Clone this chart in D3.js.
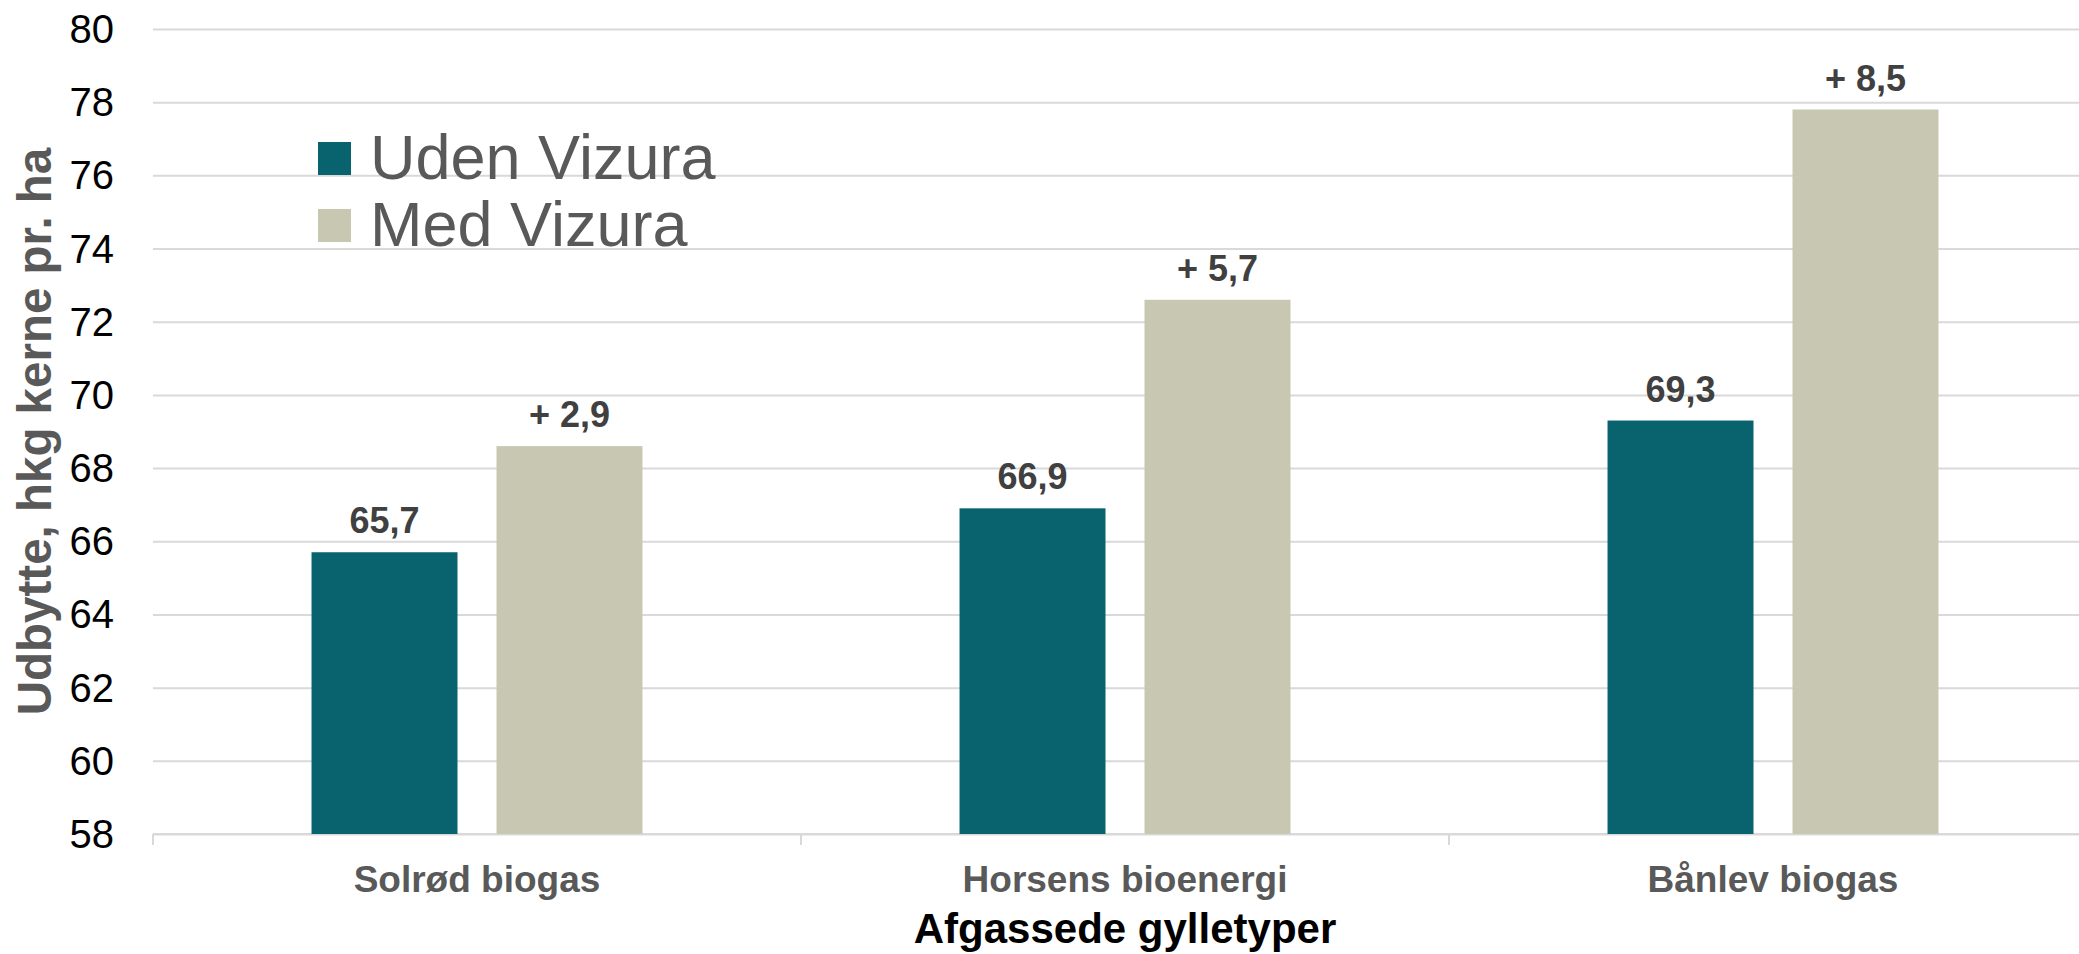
<!DOCTYPE html>
<html>
<head>
<meta charset="utf-8">
<script src="https://cdn.jsdelivr.net/npm/d3@7"></script>
<style>
    body { margin: 0; overflow: hidden; background: #fff; }
    svg { display: block; font-family: "Liberation Sans", Arial, sans-serif; }
    .grid line { stroke: #d9d9d9; stroke-width: 2; }
    .grid .domain { display: none; }
</style>
</head>
<body>
<svg width="2079" height="954"></svg>
<script>
var categories = ["Solrød biogas", "Horsens bioenergi", "Bånlev biogas"];
var series = ["Uden Vizura", "Med Vizura"];
var udenValues = [65.7, 66.9, 69.3];
var medValues = [68.6, 72.6, 77.8];
var yTicks = [58, 60, 62, 64, 66, 68, 70, 72, 74, 76, 78, 80];
var colors = ["#09636f", "#c8c7b2"];

var svg, margin, width, height, xScale, xSub, yScale, g;

function fmt(v) {
    return v.toFixed(1).replace(".", ",");
}

function initLayout() {
    svg = d3.select("svg");
    // plot runs a bit past the right edge of the picture, like the original
    margin = {top: 29, left: 153};
    width = 1944;
    height = 805;

    xScale = d3.scaleBand().domain(categories).range([0, width]);
    xSub = d3.scaleBand().domain(series).range([0, xScale.bandwidth()])
        .paddingInner(0.2108).paddingOuter(0.857);
    yScale = d3.scaleLinear().domain([58, 80]).range([height, 0]);

    g = svg.append("g")
        .attr("transform", "translate(" + margin.left + "," + margin.top + ")");
}

function drawAxes() {
    // gridlines
    g.append("g")
        .attr("class", "grid")
        .call(d3.axisRight(yScale).tickValues(yTicks).tickSize(width).tickFormat(""));

    // y tick labels
    g.append("g").selectAll("text")
        .data(yTicks)
        .enter().append("text")
        .attr("x", -39)
        .attr("y", function (d) { return yScale(d); })
        .attr("dy", "0.35em")
        .attr("text-anchor", "end")
        .attr("font-size", 40)
        .attr("fill", "#000")
        .text(function (d) { return d; });

    // x axis line + ticks between categories
    var xAxisG = g.append("g").attr("transform", "translate(0," + height + ")");
    xAxisG.append("line")
        .attr("x1", 0).attr("x2", width)
        .attr("stroke", "#d9d9d9").attr("stroke-width", 2);
    xAxisG.selectAll(".tick")
        .data(categories)
        .enter().append("line")
        .attr("class", "tick")
        .attr("x1", function (d) { return xScale(d); })
        .attr("x2", function (d) { return xScale(d); })
        .attr("y1", 0).attr("y2", 11)
        .attr("stroke", "#d9d9d9").attr("stroke-width", 2);

    xAxisG.selectAll(".cat")
        .data(categories)
        .enter().append("text")
        .attr("class", "cat")
        .attr("x", function (d) { return xScale(d) + xScale.bandwidth() / 2; })
        .attr("y", 58)
        .attr("text-anchor", "middle")
        .attr("font-size", 37)
        .attr("font-weight", "bold")
        .attr("fill", "#595959")
        .text(function (d) { return d; });

    // axis titles
    svg.append("text")
        .attr("x", margin.left + width / 2)
        .attr("y", 943)
        .attr("text-anchor", "middle")
        .attr("font-size", 42)
        .attr("font-weight", "bold")
        .attr("fill", "#000")
        .text("Afgassede gylletyper");

    svg.append("text")
        .attr("transform", "translate(51," + (margin.top + height / 2) + ") rotate(-90)")
        .attr("text-anchor", "middle")
        .attr("font-size", 47.5)
        .attr("font-weight", "bold")
        .attr("fill", "#595959")
        .text("Udbytte, hkg kerne pr. ha");
}

function plotData() {
    var rows = categories.map(function (c, i) {
        return [
            {category: c, s: series[0], value: udenValues[i], label: fmt(udenValues[i])},
            {category: c, s: series[1], value: medValues[i], label: "+ " + fmt(medValues[i] - udenValues[i])}
        ];
    });
    var flat = d3.merge(rows);

    g.selectAll(".bar")
        .data(flat)
        .enter().append("rect")
        .attr("class", "bar")
        .attr("x", function (d) { return xScale(d.category) + xSub(d.s); })
        .attr("y", function (d) { return yScale(d.value); })
        .attr("width", xSub.bandwidth())
        .attr("height", function (d) { return height - yScale(d.value); })
        .attr("fill", function (d) { return colors[series.indexOf(d.s)]; });

    g.selectAll(".lbl")
        .data(flat)
        .enter().append("text")
        .attr("class", "lbl")
        .attr("x", function (d) { return xScale(d.category) + xSub(d.s) + xSub.bandwidth() / 2; })
        .attr("y", function (d) { return yScale(d.value) - 19; })
        .attr("text-anchor", "middle")
        .attr("font-size", 36)
        .attr("font-weight", "bold")
        .attr("fill", "#404040")
        .text(function (d) { return d.label; });
}

function drawLegend() {
    var legend = svg.append("g").attr("transform", "translate(318,142)");
    var items = legend.selectAll("g")
        .data(series)
        .enter().append("g")
        .attr("transform", function (d, i) { return "translate(0," + i * 67 + ")"; });
    items.append("rect")
        .attr("width", 33).attr("height", 33)
        .attr("fill", function (d, i) { return colors[i]; });
    items.append("text")
        .attr("x", 52)
        .attr("y", 37)
        .attr("font-size", 63)
        .attr("fill", "#595959")
        .text(function (d) { return d; });
}

initLayout();
drawAxes();
plotData();
drawLegend();
</script>
</body>
</html>
